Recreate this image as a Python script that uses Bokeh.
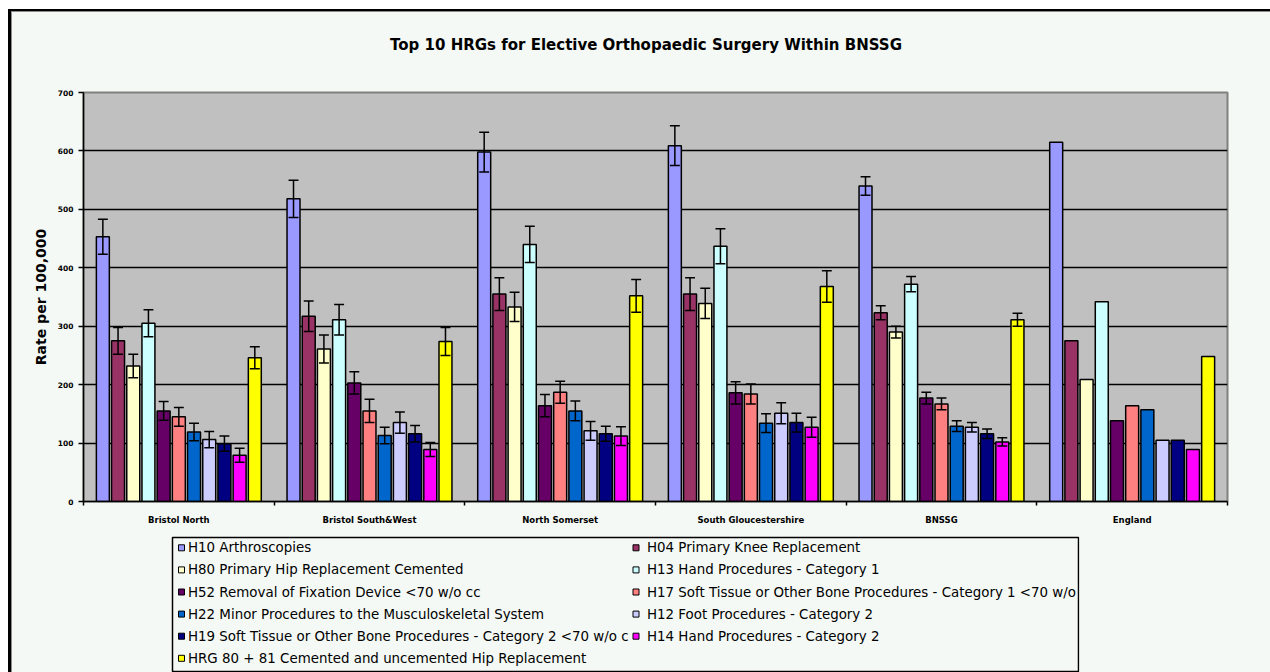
from bokeh.plotting import figure
from bokeh.layouts import column
from bokeh.models import Range1d, FixedTicker, ColumnDataSource
from bokeh.core.properties import value
from bokeh.transform import dodge
from bokeh.embed import file_html
from bokeh.resources import INLINE

# ---- data -------------------------------------------------------------
title = "Top 10 HRGs for Elective Orthopaedic Surgery Within BNSSG"
y_label = "Rate per 100,000"
areas = ["Bristol North", "Bristol South&West", "North Somerset",
         "South Gloucestershire", "BNSSG", "England"]
y_ticks = [0, 100, 200, 300, 400, 500, 600, 700]

series = ["H10 Arthroscopies",
          "H04 Primary Knee Replacement",
          "H80 Primary Hip Replacement Cemented",
          "H13 Hand Procedures - Category 1",
          "H52 Removal of Fixation Device <70 w/o cc",
          "H17 Soft Tissue or Other Bone Procedures - Category 1 <70 w/o c",
          "H22 Minor Procedures to the Musculoskeletal System",
          "H12 Foot Procedures - Category 2",
          "H19 Soft Tissue or Other Bone Procedures - Category 2 <70 w/o c",
          "H14 Hand Procedures - Category 2",
          "HRG 80 + 81 Cemented and uncemented Hip Replacement"]
colors = ["#9999FF", "#993366", "#FFFFCC", "#CCFFFF", "#660066", "#FF8080",
          "#0066CC", "#CCCCFF", "#000080", "#FF00FF", "#FFFF00"]

# rates per 100,000 (one value per area)
h10 = [453, 518, 598, 609, 540, 615]
h04 = [275, 317, 355, 355, 323, 275]
h80 = [232, 261, 333, 339, 290, 209]
h13 = [305, 311, 440, 437, 372, 342]
h52 = [155, 203, 164, 186, 177, 138]
h17 = [145, 155, 187, 184, 167, 164]
h22 = [119, 113, 155, 134, 129, 157]
h12 = [106, 135, 121, 151, 127, 105]
h19 = [99, 116, 116, 135, 116, 105]
h14 = [79, 89, 112, 127, 102, 89]
hrg = [246, 274, 352, 368, 311, 248]

# confidence half-widths (local areas only, none for England)
h10_err = [30, 32, 34, 34, 16]
h04_err = [23, 26, 28, 28, 12]
h80_err = [20, 24, 25, 26, 10]
h13_err = [23, 26, 31, 30, 13]
h52_err = [16, 19, 19, 19, 10]
h17_err = [16, 20, 19, 17, 10]
h22_err = [15, 14, 17, 16, 9]
h12_err = [14, 18, 16, 18, 8]
h19_err = [13, 14, 13, 16, 8]
h14_err = [12, 12, 16, 17, 7]
hrg_err = [19, 24, 28, 27, 11]

rates = [h10, h04, h80, h13, h52, h17, h22, h12, h19, h14, hrg]
errors = [h10_err, h04_err, h80_err, h13_err, h52_err, h17_err,
          h22_err, h12_err, h19_err, h14_err, hrg_err]

# ---- page geometry (pixels) ---------------------------------------------
W, H = 1270, 672
TITLE_H = 62                 # strip holding the title
CHART_H = 471                # strip holding the bar chart
LEGEND_H = H - TITLE_H - CHART_H
F_LEFT, F_RIGHT, F_TOP, F_BOTTOM = 83, 1227, 92, 501
BG = "#F4F9F5"

# light page with a double rule along the top and left edges
page_css = ", ".join([
    "linear-gradient(#ffffff,#ffffff) 0 0/8px 100% no-repeat",
    "linear-gradient(#ffffff,#ffffff) 0 0/100% 9px no-repeat",
    "linear-gradient(#000000,#000000) 8px 9px/3px 100% no-repeat",
    "linear-gradient(#000000,#000000) 8px 9px/100% 2px no-repeat",
    "linear-gradient(#8c8c8c,#8c8c8c) 11px 11px/1px 100% no-repeat",
    "linear-gradient(#8c8c8c,#8c8c8c) 11px 11px/100% 1px no-repeat",
    BG,
])


def strip(height):
    """A bare strip sharing the chart's horizontal frame; data units are page
    pixels (x from the page's left edge, y downwards from the strip's top)."""
    f = figure(width=W, height=height, output_backend="svg", toolbar_location=None,
               x_range=Range1d(F_LEFT, F_RIGHT), y_range=Range1d(height, 0),
               min_border_left=F_LEFT, min_border_right=W - F_RIGHT,
               min_border_top=0, min_border_bottom=0,
               x_axis_location=None, y_axis_location=None)
    f.grid.visible = False
    f.outline_line_color = None
    f.border_fill_alpha = 0
    f.background_fill_alpha = 0
    return f


# ---- title strip ---------------------------------------------------------------
pt = strip(TITLE_H)
pt.text(x=[645.5], y=[44], text=[title], text_align="center", text_baseline="middle",
        text_font=value("DejaVu Sans"), text_font_style="bold",
        text_font_size="15px", text_color="black")

# ---- chart -----------------------------------------------------------------------
p = figure(width=W, height=CHART_H, output_backend="svg", toolbar_location=None,
           title=None,
           x_range=Range1d(0, len(areas)), y_range=Range1d(0, 700),
           min_border_left=F_LEFT, min_border_right=W - F_RIGHT,
           min_border_top=F_TOP - TITLE_H,
           min_border_bottom=TITLE_H + CHART_H - F_BOTTOM)
p.border_fill_alpha = 0
p.background_fill_color = "#C0C0C0"
p.outline_line_color = "#808080"
p.outline_line_width = 2

p.xgrid.visible = False
p.ygrid.ticker = FixedTicker(ticks=y_ticks)
p.ygrid.grid_line_color = "black"
p.ygrid.grid_line_width = 1.5

# y axis
p.yaxis.ticker = FixedTicker(ticks=y_ticks)
p.yaxis.axis_line_color = "black"
p.yaxis.axis_line_width = 1.5
p.yaxis.major_tick_line_color = "black"
p.yaxis.major_tick_line_width = 1.5
p.yaxis.major_tick_out = 5
p.yaxis.major_tick_in = 0
p.yaxis.minor_tick_line_color = None
p.yaxis.major_label_text_font = "DejaVu Sans"
p.yaxis.major_label_text_font_style = "bold"
p.yaxis.major_label_text_font_size = "7.5px"
p.yaxis.major_label_text_color = "black"
p.yaxis.major_label_standoff = 5
p.yaxis.axis_label = y_label
p.yaxis.axis_label_text_font = "DejaVu Sans"
p.yaxis.axis_label_text_font_style = "bold"
p.yaxis.axis_label_text_font_size = "14px"
p.yaxis.axis_label_text_color = "black"
p.yaxis.axis_label_standoff = 6

# x axis: names at group centres, ticks on group boundaries
centers = [i + 0.5 for i in range(len(areas))]
bounds = list(range(len(areas) + 1))
p.xaxis.ticker = FixedTicker(ticks=centers, minor_ticks=bounds)
p.xaxis.major_label_overrides = {c: a for c, a in zip(centers, areas)}
p.xaxis.axis_line_color = "black"
p.xaxis.axis_line_width = 1.5
p.xaxis.major_tick_line_color = None
p.xaxis.major_tick_out = 4
p.xaxis.major_tick_in = 0
p.xaxis.minor_tick_line_color = "black"
p.xaxis.minor_tick_line_width = 1.5
p.xaxis.minor_tick_out = 4
p.xaxis.minor_tick_in = 0
p.xaxis.major_label_text_font = "DejaVu Sans"
p.xaxis.major_label_text_font_style = "bold"
p.xaxis.major_label_text_font_size = "8.5px"
p.xaxis.major_label_text_color = "black"
p.xaxis.major_label_standoff = 9

# bars and error bars
n = len(series)
slot = 0.0797
bar_w = 0.068
cap = 0.026
for i, (vals, errs, col) in enumerate(zip(rates, errors, colors)):
    off = (i - (n - 1) / 2) * slot
    src = ColumnDataSource(dict(x=centers, top=vals))
    p.vbar(x=dodge("x", off, range=p.x_range), top="top", width=bar_w,
           source=src, fill_color=col, line_color="black", line_width=1.5)
    m = len(errs)
    esrc = ColumnDataSource(dict(
        x=centers[:m],
        lo=[v - e for v, e in zip(vals[:m], errs)],
        hi=[v + e for v, e in zip(vals[:m], errs)]))
    p.segment(x0=dodge("x", off, range=p.x_range), x1=dodge("x", off, range=p.x_range),
              y0="lo", y1="hi", source=esrc, line_color="black", line_width=1.5)
    for yk in ("lo", "hi"):
        p.segment(x0=dodge("x", off - cap, range=p.x_range),
                  x1=dodge("x", off + cap, range=p.x_range),
                  y0=yk, y1=yk, source=esrc, line_color="black", line_width=1.5)

# ---- legend strip: two columns filled row by row, cut at the box edge -------------
BOX_L, BOX_R, BOX_T, BOX_B = 172, 1078, 537, 671
pl = strip(LEGEND_H)
y0 = TITLE_H + CHART_H
pl.quad(left=[BOX_L], right=[BOX_R], top=[BOX_T - y0], bottom=[BOX_B - y0],
        fill_color=BG, line_color="black", line_width=1.5)
swatch_x = [181, 635.5]
text_x = [187.5, 646.5]
row_top, row_step = 547.3, 22.1
rows = [i // 2 for i in range(n)]
cols = [i % 2 for i in range(n)]
leg = ColumnDataSource(dict(
    sx=[swatch_x[c] for c in cols],
    tx=[text_x[c] for c in cols],
    y=[row_top + r * row_step - y0 for r in rows],
    label=series, color=colors))
pl.rect(x="sx", y="y", width=6, height=6, source=leg,
        fill_color="color", line_color="black", line_width=1)
pl.text(x="tx", y="y", text="label", source=leg, text_align="left",
        text_baseline="middle", text_font=value("DejaVu Sans"),
        text_font_size="13.4px", text_color="black")
# text running past the legend's right edge is hidden, as in a fixed-size legend box
pl.quad(left=[BOX_R + 1], right=[F_RIGHT], top=[0], bottom=[LEGEND_H],
        fill_color=BG, line_color=None)

page = column(pt, p, pl, spacing=0, styles={"background": page_css})

with open("out.html", "w") as f:
    f.write(file_html(page, INLINE))
